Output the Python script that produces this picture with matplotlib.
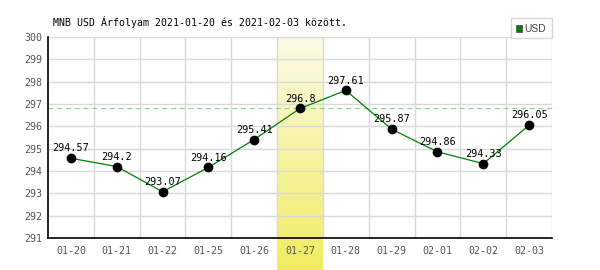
import matplotlib
matplotlib.use("Agg")
import matplotlib.pyplot as plt
import numpy as np
from matplotlib.patches import Rectangle

dates = ["01-20", "01-21", "01-22", "01-25", "01-26", "01-27", "01-28", "01-29", "02-01", "02-02", "02-03"]
values = [294.57, 294.2, 293.07, 294.16, 295.41, 296.8, 297.61, 295.87, 294.86, 294.33, 296.05]
highlight_idx = 5
y_ticks = [291, 292, 293, 294, 295, 296, 297, 298, 299, 300]
title = "MNB USD Árfolyam 2021-01-20 és 2021-02-03 között."
series_name = "USD"

mono = ["DejaVu Sans Mono"]

fig = plt.figure(figsize=(6, 2.7), dpi=100)
ax = fig.add_axes([48/600, 1-238/270, 504/600, 201/270])

n = len(dates)
x = np.arange(n)

# highlight band with gradient, extending below the axis
grad = np.linspace(0, 1, 256).reshape(-1, 1)
top = np.array([253, 251, 232]) / 255
bot = np.array([240, 236, 96]) / 255
img = top[None, None, :] * (1 - grad[:, :, None]) + bot[None, None, :] * grad[:, :, None]
y_low = y_ticks[0] - (270 - 238) / (201 / (y_ticks[-1] - y_ticks[0]))
ax.imshow(img, extent=(highlight_idx - 0.5, highlight_idx + 0.5, y_low, y_ticks[-1]),
          aspect="auto", origin="upper", zorder=0, clip_on=False)
ax.set_xlim(-0.5, n - 0.5)
ax.set_ylim(y_ticks[0], y_ticks[-1])

# grid
for yv in y_ticks[1:]:
    ax.axhline(yv, color="#d9d9d9", lw=1, zorder=1)
for k in range(1, n + 1):
    ax.axvline(k - 0.5, color="#d9d9d9", lw=1, zorder=1)

# reference dashed line at highlighted value
ax.axhline(values[highlight_idx], color="#88dd88", lw=0.9, ls=(0, (4, 3)), zorder=2)

ax.plot(x, values, color="#008000", lw=0.9, zorder=3)
ax.plot(x, values, "o", color="black", ms=6, zorder=4)
for xi, v in zip(x, values):
    ax.annotate(f"{v:g}", (xi, v), xytext=(0, 3.5), textcoords="offset points",
                ha="center", va="bottom", fontsize=7.3, family=mono, color="black", zorder=5)

for s in ["top", "right"]:
    ax.spines[s].set_visible(False)
ax.spines["left"].set_color("black")
ax.spines["bottom"].set_color("black")
ax.spines["left"].set_linewidth(1.2)
ax.spines["bottom"].set_linewidth(1.2)

ax.set_xticks(x)
ax.set_xticklabels(dates, fontsize=7.2, family=mono, color="#555555")
ax.set_yticks(y_ticks)
ax.set_yticklabels([str(t) for t in y_ticks], fontsize=7.2, family=mono, color="#555555")
ax.tick_params(axis="both", length=0, pad=4)
ax.tick_params(axis="x", pad=6)

fig.text(53/600, 1-22/270, title, fontsize=7.1, family=mono, color="black", va="center", ha="left")

# legend box
fig.patches.append(Rectangle((511/600, 1-38/270), 41/600, 20/270, transform=fig.transFigure,
                             facecolor="white", edgecolor="#d9d9d9", lw=1))
fig.patches.append(Rectangle((515.5/600, 1-31.5/270), 6/600, 6/270, transform=fig.transFigure,
                             facecolor="#008000", edgecolor="#555555", lw=0.6))
fig.text(524/600, 1-28.5/270, series_name, fontsize=7.4, family=["Liberation Sans", "DejaVu Sans"],
         color="#444444", va="center", ha="left")

fig.savefig("out.png", dpi=100)
